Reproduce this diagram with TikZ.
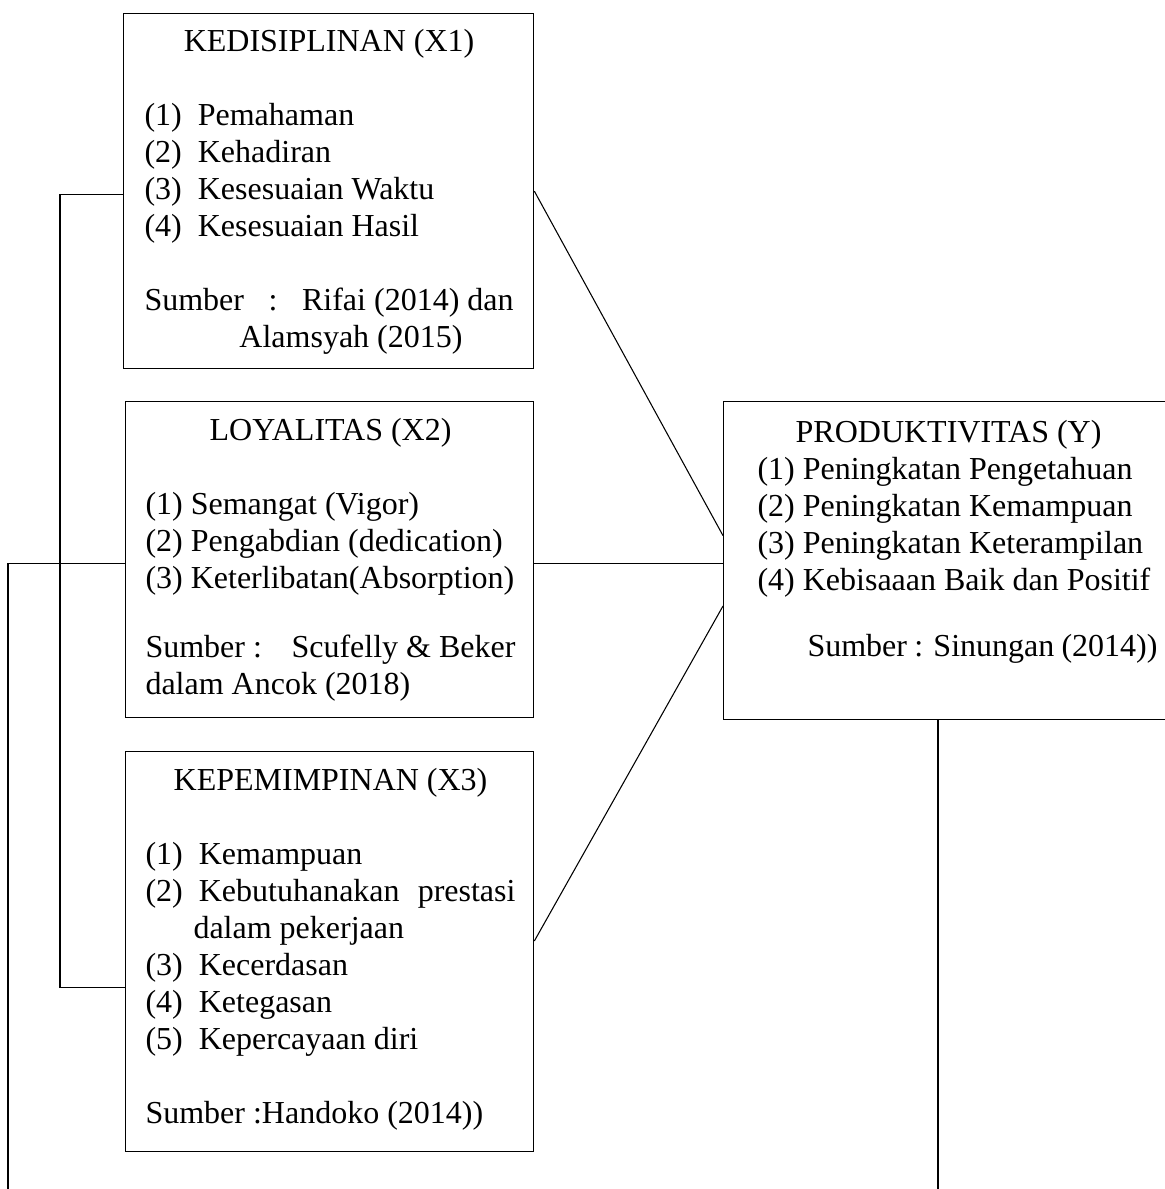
\documentclass[tikz,border=0pt]{standalone}
\usepackage{fontspec}
\setmainfont{Liberation Serif}
\usepackage{tikz}
\usetikzlibrary{calc, positioning}

\newcommand{\nomor}[1]{\makebox[20pt][l]{(#1)}}

\begin{document}
\begin{tikzpicture}[x=0.375pt, y=-0.375pt,
    kotak/.style={draw, line width=0.5pt, anchor=north west, inner sep=0pt},
    isi/.style={anchor=base west, inner sep=0pt, font=\fontsize{12pt}{13.875pt}\selectfont},
    garis/.style={line width=0.4pt}]
    \useasboundingbox (0,0) rectangle (1165,1189);
    \clip (0,0) rectangle (1165,1189);

    % Kotak variabel
    \node[kotak, minimum width=153.75pt, minimum height=133.1pt] (disiplin) at (123,13) {};
    \node[kotak, minimum width=153pt, minimum height=118.5pt] (loyal) at (125,401) {};
    \node[kotak, minimum width=153pt, minimum height=150pt] (pimpin) at (125,751) {};
    \node[kotak, minimum width=168.4pt, minimum height=119.25pt] (produk) at (723,401) {};

    % Isi kotak
    \node[isi] (disiplinisi) at (144,51) {\parbox[t]{138.4pt}{%
        \makebox[\linewidth]{KEDISIPLINAN (X1)}\\[13.875pt]
        \nomor{1}Pemahaman\\
        \nomor{2}Kehadiran\\
        \nomor{3}Kesesuaian Waktu\\
        \nomor{4}Kesesuaian Hasil\\[13.875pt]
        Sumber\hfill:\hfill Rifai (2014) dan\\
        \hspace*{35.6pt}Alamsyah (2015)}};
    \node[isi] (loyalisi) at (145,440) {\parbox[t]{138.75pt}{%
        \makebox[\linewidth]{LOYALITAS (X2)}\\[13.875pt]
        (1) Semangat (Vigor)\\
        (2) Pengabdian (dedication)\\
        (3) Keterlibatan(Absorption)\\[12pt]
        Sumber :\hfill Scufelly \& Beker\\
        dalam Ancok (2018)}};
    \node[isi] (pimpinisi) at (145,790) {\parbox[t]{138.75pt}{%
        \makebox[\linewidth]{KEPEMIMPINAN (X3)}\\[13.875pt]
        \nomor{1}Kemampuan\\
        \nomor{2}Kebutuhanakan\hfill prestasi\\
        \hspace*{18pt}dalam pekerjaan\\
        \nomor{3}Kecerdasan\\
        \nomor{4}Ketegasan\\
        \nomor{5}Kepercayaan diri\\[13.875pt]
        Sumber :Handoko (2014))}};
    \node[isi] (produkisi) at (757,442) {\parbox[t]{150pt}{%
        \makebox[143.3pt]{PRODUKTIVITAS (Y)}\\
        (1) Peningkatan Pengetahuan\\
        (2) Peningkatan Kemampuan\\
        (3) Peningkatan Keterampilan\\
        (4) Kebisaaan Baik dan Positif\\[11pt]
        \hspace*{18.75pt}Sumber : Sinungan (2014))}};

    % Garis hubungan X ke Y
    \draw[garis] (disiplin.east) -- ([yshift=9.4pt]produk.west);
    \draw[line width=0.6pt] ([yshift=-1.5pt]loyal.east) coordinate (loyalkanan)
        -- (loyalkanan -| produk.west);
    \draw[garis] ([yshift=4pt]pimpin.east) -- ([yshift=-17pt]produk.west);

    % Garis bawah
    \coordinate (ujungkiri) at (8,1189);
    \coordinate (ujungkanan) at (938,1189);
    \draw[line width=0.5pt] ([yshift=-1.3pt]disiplin.west) -- ++(-63,0) |- ([yshift=-13.5pt]pimpin.west);
    \draw[line width=0.5pt] ([yshift=-1.5pt]loyal.west) -| (ujungkiri);
    \draw[line width=0.5pt] (ujungkanan |- produk.south) -- (ujungkanan);
\end{tikzpicture}
\end{document}
